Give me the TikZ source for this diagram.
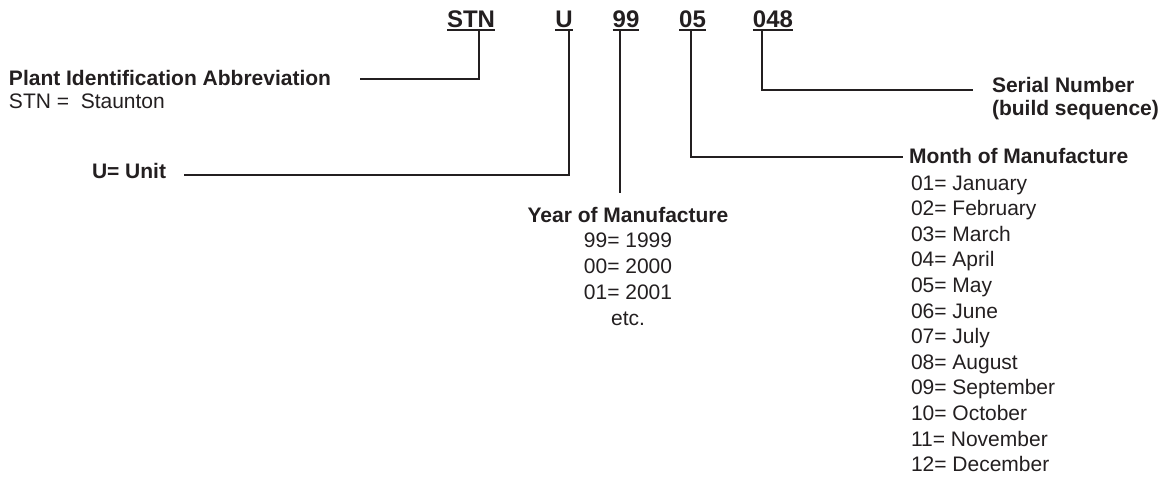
\documentclass[tikz,border=0pt]{standalone}
\usepackage{fontspec}
\setmainfont{Liberation Sans}
\definecolor{ink}{HTML}{231F20}
\begin{document}
\begin{tikzpicture}[x=1pt,y=-1pt,
  every node/.style={inner sep=0pt, outer sep=0pt, text=ink},
  code/.style={anchor=base, font=\fontsize{24}{26}\selectfont\bfseries},
  head/.style={anchor=base west, font=\fontsize{21}{23}\selectfont\bfseries},
  headc/.style={anchor=base, font=\fontsize{21}{23}\selectfont\bfseries},
  item/.style={anchor=base west, font=\fontsize{21}{23}\selectfont},
  itemc/.style={anchor=base, font=\fontsize{21}{23}\selectfont},
  conn/.style={line width=2.2pt, draw=ink},
  uline/.style={line width=2pt, draw=ink}]
\useasboundingbox (0,0) rectangle (1169,477);

% code parts
\node[code] (stn) at (471,27) {STN};
\node[code] (u)   at (564,27) {U};
\node[code] (yy)  at (626,27) {99};
\node[code] (mm)  at (692.5,27) {05};
\node[code] (sn)  at (773,27) {048};
\foreach \n in {stn,u,yy,mm,sn}
  \draw[uline] ([yshift=-3pt]\n.base west) -- ([yshift=-3pt]\n.base east);

% connector anchor points
\coordinate (stnT) at (479,30);
\coordinate (uT)   at (569,30);
\coordinate (yyT)  at (620,30);
\coordinate (mmT)  at (691,30);
\coordinate (snT)  at (762,30);
\coordinate (plantE) at (360,79);
\coordinate (unitE)  at (184,175);
\coordinate (yearE)  at (620,193);
\coordinate (monthE) at (903,157);
\coordinate (serialE) at (973,90);

\draw[conn] (stnT) |- (plantE);
\draw[conn] (uT) |- (unitE);
\draw[conn] (yyT) -- (yearE);
\draw[conn] (mmT) |- (monthE);
\draw[conn] (snT) |- (serialE);

% left labels
\node[head] (plant) at (9,85) {Plant Identification Abbreviation};
\node[item] (plant2) at (9,108) {STN = \ Staunton};
\node[head] (unit) at (92,178) {U= Unit};

% year
\node[headc] (year) at (628,222) {Year of Manufacture};
\node[itemc] (y1) at (628,247) {99= 1999};
\node[itemc] (y2) at (628,273) {00= 2000};
\node[itemc] (y3) at (628,299) {01= 2001};
\node[itemc] (y4) at (628,325) {etc.};

% serial
\node[head] (serial) at (992,92) {Serial Number};
\node[head] (serial2) at (992,115) {(build sequence)};

% month
\node[head] (month) at (909,163) {Month of Manufacture};
\foreach \t [count=\i] in {01= January,02= February,03= March,04= April,05= May,06= June,07= July,08= August,09= September,10= October,11= November,12= December}
  \node[item] (m\i) at (911,{190+25.6*(\i-1)}) {\t};
\end{tikzpicture}
\end{document}
